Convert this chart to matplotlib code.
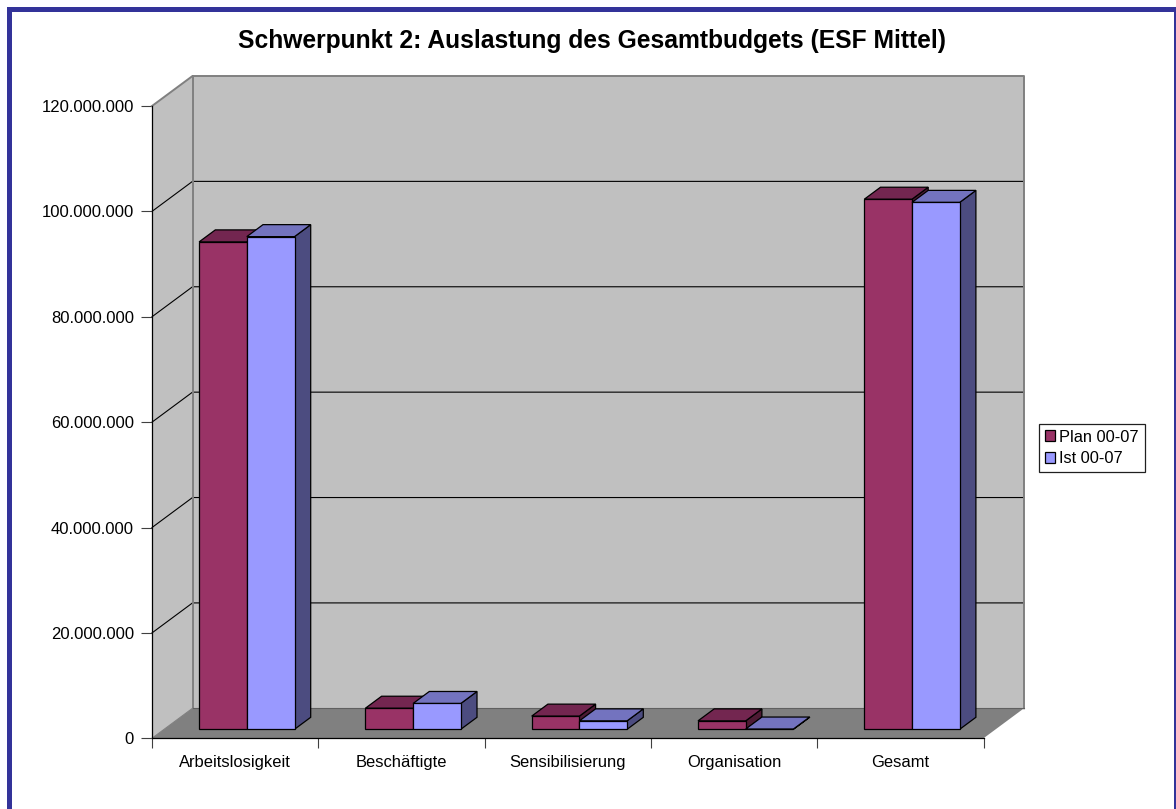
import matplotlib
matplotlib.use('Agg')
import matplotlib.pyplot as plt
from matplotlib.patches import Polygon, Patch, Rectangle
from matplotlib.ticker import FuncFormatter
import numpy as np

plt.rcParams['font.family'] = ['Liberation Sans', 'DejaVu Sans']

# Werte
categories = ['Arbeitslosigkeit', 'Beschäftigte', 'Sensibilisierung', 'Organisation', 'Gesamt']
plan = [92500000, 4000000, 2500000, 1600000, 100600000]
ist = [93500000, 4900000, 1600000, 50000, 100000000]
series_names = ['Plan 00-07', 'Ist 00-07']
title = 'Schwerpunkt 2: Auslastung des Gesamtbudgets (ESF Mittel)'
y_ticks = [0, 20000000, 40000000, 60000000, 80000000, 100000000, 120000000]

W, H = 1176, 809
fig = plt.figure(figsize=(W / 100, H / 100), dpi=100)

# Rahmen um das Bild, rechts und unten abgeschnitten
fig.add_artist(Rectangle((8.5 / W, -10 / H), 1167 / W, (H - 8.5 + 10) / H, transform=fig.transFigure,
                         fill=False, edgecolor='#333399', linewidth=3.6))

# Vordere Ebene des Diagramms
left, right, top, bottom = 152, 983.5, 106, 738.3
ax = fig.add_axes([left / W, 1 - bottom / H, (right - left) / W, (bottom - top) / H])
ax.set_xlim(0, len(categories))
ax.set_ylim(0, 120000000)
ax.patch.set_visible(False)

# Tiefe in Datenkoordinaten
dx = 40.5 / (right - left) * len(categories)
dy = 30.0 / (bottom - top) * 120000000
ymax = y_ticks[-1]
n = len(categories)


def poly(pts, face, edge='black', lw=0.9, z=2):
    ax.add_patch(Polygon(pts, closed=True, facecolor=face, edgecolor=edge, linewidth=lw,
                         clip_on=False, zorder=z, joinstyle='miter'))


# Wände und Boden
poly([(0, 0), (dx, dy), (dx, ymax + dy), (0, ymax)], '#C0C0C0', 'none', 0, 1)
poly([(dx, dy), (n + dx, dy), (n + dx, ymax + dy), (dx, ymax + dy)], '#C0C0C0', 'none', 0, 1)
poly([(0, 0), (n, 0), (n + dx, dy), (dx, dy)], '#808080', 'none', 0, 1)

# Gitterlinien
for v in y_ticks[1:-1]:
    ax.plot([0, dx, n + dx], [v, v + dy, v + dy], color='black', lw=0.8, clip_on=False, zorder=1.5)
ax.plot([0, dx, n + dx, n + dx], [ymax, ymax + dy, ymax + dy, dy], color='#808080', lw=1.4,
        clip_on=False, zorder=1.6)
ax.plot([dx, dx], [dy, ymax + dy], color='#808080', lw=1.4, clip_on=False, zorder=1.6)
ax.plot([0, dx], [0, dy], color='#808080', lw=0.8, clip_on=False, zorder=1.6)
ax.plot([dx, n + dx, n + dx], [dy, dy, dy], color='#606060', lw=0.8, clip_on=False, zorder=1.6)


def bar3d(x0, w, v, front, topc, side):
    # Säule sitzt bei 30-70 % der Tiefe
    ox, oy = dx * 0.3, dy * 0.3
    bx, by = dx * 0.4, dy * 0.4
    xa, xb = x0 + ox, x0 + w + ox
    ya, yb = oy, oy + v
    poly([(xb, ya), (xb + bx, ya + by), (xb + bx, yb + by), (xb, yb)], side)
    poly([(xa, yb), (xb, yb), (xb + bx, yb + by), (xa + bx, yb + by)], topc)
    poly([(xa, ya), (xb, ya), (xb, yb), (xa, yb)], front)


bar_w = 47.7 / (right - left) * n
for i in range(n):
    x0 = i + 0.5 - bar_w - 0.003
    bar3d(x0, bar_w, plan[i], '#993366', '#732650', '#4D1A33')
    bar3d(x0 + bar_w, bar_w, ist[i], '#9999FF', '#7373BF', '#4C4C80')

# Achsen
for s in ['top', 'right']:
    ax.spines[s].set_visible(False)
for s in ['left', 'bottom']:
    ax.spines[s].set_linewidth(0.9)
    ax.spines[s].set_zorder(5)
ax.set_yticks(y_ticks)
ax.yaxis.set_major_formatter(FuncFormatter(lambda v, p: f'{v:,.0f}'.replace(',', '.')))
ax.tick_params(axis='y', length=8, width=0.8, color='#404040', pad=5, labelsize=12)
ax.set_xticks(np.arange(n + 1))
ax.set_xticklabels([])
ax.tick_params(axis='x', which='major', length=7.5, width=0.8, color='#404040')
ax.set_xticks(np.arange(n) + 0.5, minor=True)
ax.set_xticklabels(categories, minor=True)
ax.tick_params(axis='x', which='minor', length=0, pad=12, labelsize=11.9)

fig.text(592 / W, 1 - 41 / H, title, ha='center', va='center', fontsize=17.7, fontweight='bold')

# Legende
handles = [Patch(facecolor='#993366', edgecolor='black', linewidth=0.9, label=series_names[0]),
           Patch(facecolor='#9999FF', edgecolor='black', linewidth=0.9, label=series_names[1])]
leg = fig.legend(handles=handles, loc='center left', bbox_to_anchor=(1039 / W, 1 - 448 / H),
                 fontsize=11.8, fancybox=False, framealpha=1, edgecolor='#202020', borderpad=0.35,
                 handlelength=0.65, handleheight=0.65, handletextpad=0.25, labelspacing=0.4,
                 borderaxespad=0)
leg.get_frame().set_linewidth(0.9)

fig.savefig('out.png', dpi=100)
